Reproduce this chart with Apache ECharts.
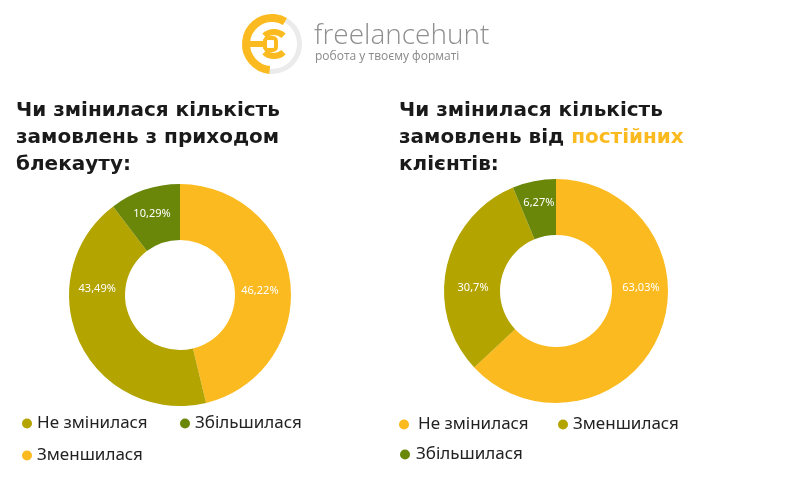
<!DOCTYPE html>
<html><head><meta charset="utf-8">
<script src="https://cdn.jsdelivr.net/npm/echarts@6/dist/echarts.min.js"></script>
<style>html,body{margin:0;padding:0;background:#fff}#c{width:800px;height:500px}</style>
</head><body><div id="c"></div>
<script>
const leftNames = ['Зменшилася', 'Не змінилася', 'Збільшилася'];
const leftValues = [46.22, 43.49, 10.29];
const rightNames = ['Не змінилася', 'Зменшилася', 'Збільшилася'];
const rightValues = [63.03, 30.7, 6.27];

const YELLOW = '#FBBA1F', OLIVE = '#B3A400', GREEN = '#6B870A';
const leftColors = {'Зменшилася': YELLOW, 'Не змінилася': OLIVE, 'Збільшилася': GREEN};
const rightColors = {'Не змінилася': YELLOW, 'Зменшилася': OLIVE, 'Збільшилася': GREEN};
// label placement (style): angle in degrees clockwise from 12 o'clock, and distance from centre
const pieStyle = [
  {center: [180, 295], radius: [55, 111], labelAngles: [87, 274, 341], labelDist: [80, 83, 86]},
  {center: [556, 291], radius: [56, 112], labelAngles: [88, 272, 349], labelDist: [85, 83, 90]}
];

const chart = echarts.init(document.getElementById('c'));
const fmt = p => String(p.value).replace('.', ',') + '%';
const FONT = 'DejaVu Sans';

function mkLegend(name, color, left, top, pad) {
  return {
    data: [{name: name, itemStyle: {color: color}}],
    left: left, top: top, icon: 'circle', itemWidth: 10, itemHeight: 10,
    selectedMode: false,
    textStyle: {fontFamily: 'Noto Sans', fontSize: 17, color: '#222', padding: [0, 0, 0, pad || 0]}
  };
}

function mkPie(names, values, colors, st) {
  return {
    type: 'pie', center: st.center, radius: st.radius, startAngle: 90, clockwise: true,
    silent: true, animation: false,
    label: {position: 'inside', formatter: fmt, color: '#fff', fontSize: 11, fontFamily: 'Noto Sans',
            align: 'center', verticalAlign: 'middle'},
    labelLine: {show: false},
    labelLayout: function (p) {
      const a = st.labelAngles[p.dataIndex] * Math.PI / 180;
      const d = st.labelDist[p.dataIndex];
      return {x: st.center[0] + d * Math.sin(a), y: st.center[1] - d * Math.cos(a),
              align: 'center', verticalAlign: 'middle'};
    },
    data: names.map((n, i) => ({name: n, value: values[i], itemStyle: {color: colors[n]}}))
  };
}

chart.setOption({
  backgroundColor: '#fff',
  title: [
    {text: 'Чи змінилася кількість\nзамовлень з приходом\nблекауту:', left: 16, top: 97, padding: 0,
     textStyle: {fontFamily: FONT, fontWeight: 'bold', fontSize: 20, lineHeight: 27, color: '#1a1a1a'}},
    {text: 'Чи змінилася кількість\nзамовлень від {y|постійних}\nклієнтів:', left: 399, top: 97, padding: 0,
     textStyle: {fontFamily: FONT, fontWeight: 'bold', fontSize: 20, lineHeight: 27, color: '#1a1a1a',
       rich: {y: {fontFamily: FONT, fontWeight: 'bold', fontSize: 20, lineHeight: 27, color: YELLOW}}}}
  ],
  legend: [
    mkLegend('Не змінилася', OLIVE, 17, 410),
    mkLegend('Збільшилася', GREEN, 175, 410),
    mkLegend('Зменшилася', YELLOW, 17, 442),
    mkLegend('Не змінилася', YELLOW, 394, 411, 4),
    mkLegend('Зменшилася', OLIVE, 553, 411),
    mkLegend('Збільшилася', GREEN, 395, 441, 1)
  ],
  series: [
    mkPie(leftNames, leftValues, leftColors, pieStyle[0]),
    mkPie(rightNames, rightValues, rightColors, pieStyle[1])
  ],
  graphic: [
    {type: 'arc', shape: {cx: 272, cy: 44, r: 27.5, startAngle: -Math.PI / 3, endAngle: Math.PI * 95 / 180, clockwise: true},
     style: {stroke: '#ebebeb', lineWidth: 5, fill: null}},
    {type: 'arc', shape: {cx: 272, cy: 44, r: 26, startAngle: Math.PI * 95 / 180, endAngle: Math.PI * 5 / 3, clockwise: true},
     style: {stroke: '#FBBA1F', lineWidth: 8, fill: null}},
    {type: 'rect', shape: {x: 248, y: 41, width: 15, height: 6}, style: {fill: '#FBBA1F'}},
    {type: 'arc', shape: {cx: 274, cy: 46, r: 14, startAngle: -Math.PI * 0.74, endAngle: -Math.PI * 0.26, clockwise: true},
     style: {stroke: '#FBBA1F', lineWidth: 6, fill: null}},
    {type: 'arc', shape: {cx: 274, cy: 42, r: 14, startAngle: Math.PI * 0.26, endAngle: Math.PI * 0.74, clockwise: true},
     style: {stroke: '#FBBA1F', lineWidth: 6, fill: null}},
    {type: 'rect', shape: {x: 265, y: 38, width: 11, height: 12, r: 3}, style: {stroke: '#FBBA1F', lineWidth: 4, fill: null}},
    {type: 'text', left: 314, top: 22, style: {text: 'freelancehunt', fontFamily: 'Open Sans', fontWeight: 300, fontSize: 28, fill: '#8f8f8f'}},
    {type: 'text', left: 315, top: 51, style: {text: 'робота у твоєму форматі', fontFamily: 'Open Sans', fontSize: 12, fill: '#8a8a8a'}}
  ]
});
</script></body></html>
